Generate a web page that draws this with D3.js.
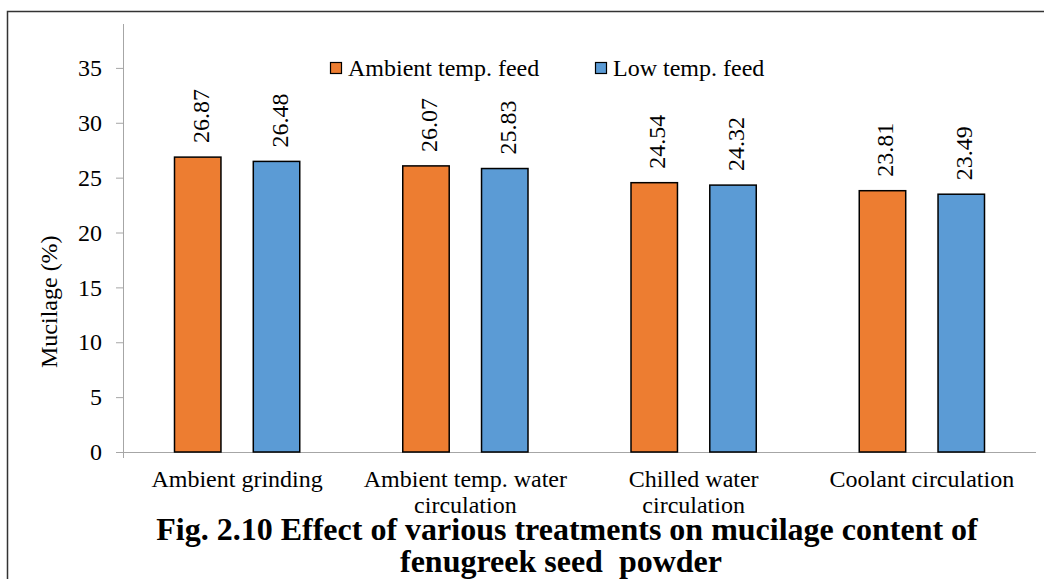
<!DOCTYPE html>
<meta charset="utf-8">
<script src="https://d3js.org/d3.v7.min.js"></script>
<style>
  body { margin: 0; background: #fff; }
  svg text { font-family: "Liberation Serif", "Times New Roman", serif; fill: #000; }
</style>
<div id="chart"></div>
<script>
// data
var categories = ["Ambient grinding", "Ambient temp. water circulation", "Chilled water circulation", "Coolant circulation"];
var seriesNames = ["Ambient temp. feed", "Low temp. feed"];
var ambientFeed = [26.87, 26.07, 24.54, 23.81];
var lowFeed = [26.48, 25.83, 24.32, 23.49];
var yTicks = [0, 5, 10, 15, 20, 25, 30, 35];
var colors = ["#ed7d31", "#5b9bd5"];

var W = 1044, H = 579;
var margin = { top: 24, left: 123 };
var plotW = 1036 - margin.left, plotH = 452 - margin.top;

var svg = d3.select("#chart").append("svg")
    .attr("width", W).attr("height", H);

// outer frame
svg.append("rect")
    .attr("x", 7.5).attr("y", 11.5)
    .attr("width", W).attr("height", H)
    .attr("fill", "none").attr("stroke", "#333").attr("stroke-width", 1.5);

var g = svg.append("g").attr("transform", "translate(" + margin.left + "," + margin.top + ")");

var x0 = d3.scaleBand().domain(categories).range([0, plotW]);
var x1 = d3.scaleBand().domain(seriesNames).range([51.5, x0.bandwidth() - 51.5]).paddingInner(32 / 78);
var y = d3.scaleLinear().domain([0, 39]).range([plotH, 0]);

// y axis
var yAxis = g.append("g")
    .call(d3.axisLeft(y).tickValues(yTicks).tickSize(7).tickPadding(14));
yAxis.select(".domain").attr("stroke", "#a6a6a6").attr("d", "M0.5," + (plotH + 6) + "V0");
yAxis.selectAll(".tick line").attr("stroke", "#a6a6a6");
yAxis.selectAll(".tick text").style("font-size", "24px").style("font-family", "Liberation Serif");

// x axis
var xAxis = g.append("g").attr("transform", "translate(0," + plotH + ")")
    .call(d3.axisBottom(x0).tickSize(0).tickFormat(""));
xAxis.select(".domain").attr("stroke", "#a6a6a6").attr("d", "M-7,0.5H" + plotW);

// x labels (wrapped)
var wraps = {
  "Ambient grinding": ["Ambient grinding"],
  "Ambient temp. water circulation": ["Ambient temp. water", "circulation"],
  "Chilled water circulation": ["Chilled water", "circulation"],
  "Coolant circulation": ["Coolant circulation"]
};
categories.forEach(function (c) {
  var cx = x0(c) + x0.bandwidth() / 2;
  var t = g.append("text")
      .attr("y", plotH + 35)
      .attr("text-anchor", "middle")
      .style("font-size", "24px");
  wraps[c].forEach(function (line, i) {
    t.append("tspan").attr("x", cx).attr("dy", i ? 26 : 0).text(line);
  });
});

// bars
var rows = categories.map(function (c, i) { return { cat: c, vals: [ambientFeed[i], lowFeed[i]] }; });
var grp = g.selectAll(".grp").data(rows).enter().append("g")
    .attr("transform", function (d) { return "translate(" + x0(d.cat) + ",0)"; });

grp.selectAll("rect").data(function (d) { return d.vals.map(function (v, j) { return { s: seriesNames[j], v: v, j: j }; }); })
  .enter().append("rect")
    .attr("x", function (d) { return x1(d.s); })
    .attr("y", function (d) { return y(d.v); })
    .attr("width", x1.bandwidth())
    .attr("height", function (d) { return plotH - y(d.v); })
    .attr("fill", function (d) { return colors[d.j]; })
    .attr("stroke", "#000").attr("stroke-width", 1.5);

grp.selectAll(".lbl").data(function (d) { return d.vals.map(function (v, j) { return { s: seriesNames[j], v: v }; }); })
  .enter().append("text")
    .attr("transform", function (d) {
      return "translate(" + (x1(d.s) + x1.bandwidth() / 2 + 11) + "," + (y(d.v) - 14) + ") rotate(-90)";
    })
    .style("font-size", "24px")
    .text(function (d) { return d.v.toFixed(2); });

// legend
var legend = svg.append("g").attr("transform", "translate(330,62)");
var legX = [0, 265];
seriesNames.forEach(function (s, i) {
  legend.append("rect").attr("x", legX[i] + 0.5).attr("y", 0.5).attr("width", 11).attr("height", 11)
      .attr("fill", colors[i]).attr("stroke", "#000").attr("stroke-width", 1.2);
  legend.append("text").attr("x", legX[i] + 18).attr("y", 14)
      .style("font-size", "24px").text(s);
});

// y title
svg.append("text")
    .attr("transform", "translate(57,368) rotate(-90)")
    .attr("text-anchor", "start")
    .style("font-size", "24px")
    .text("Mucilage (%)");

// caption
var cap = svg.append("text").attr("text-anchor", "middle").style("font-size", "32px").style("font-weight", "bold");
cap.append("tspan").attr("x", 567).attr("y", 540).text("Fig. 2.10 Effect of various treatments on mucilage content of");
cap.append("tspan").attr("x", 561).attr("y", 572).style("white-space", "pre").text("fenugreek seed  powder");
</script>
